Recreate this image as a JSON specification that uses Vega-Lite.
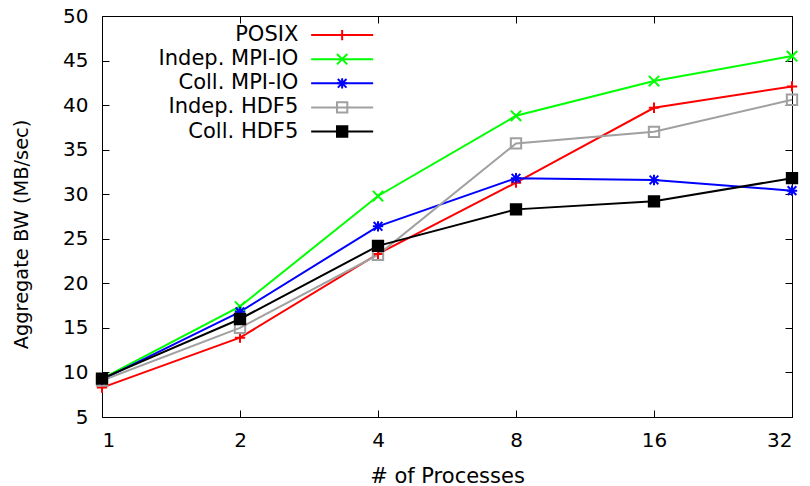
{
  "$schema": "https://vega.github.io/schema/vega-lite/v6.json",
  "width": 690,
  "height": 401,
  "autosize": {"type": "none"},
  "padding": {"left": 102, "top": 16, "right": 18, "bottom": 69},
  "background": "white",
  "config": {
    "view": {"stroke": "#000000", "strokeWidth": 1},
    "font": "DejaVu Sans",
    "axis": {
      "domain": false, "grid": false, "tickColor": "#000000", "tickSize": -7, "tickWidth": 1,
      "labelFont": "DejaVu Sans", "labelFontSize": 20, "labelColor": "#000000",
      "titleFont": "DejaVu Sans", "titleFontSize": 20, "titleFontWeight": "normal", "titleColor": "#000000"
    }
  },
  "data": {"values": [
    {"procs": 1, "series": "POSIX", "bw": 8.3},
    {"procs": 2, "series": "POSIX", "bw": 13.9},
    {"procs": 4, "series": "POSIX", "bw": 23.3},
    {"procs": 8, "series": "POSIX", "bw": 31.3},
    {"procs": 16, "series": "POSIX", "bw": 39.7},
    {"procs": 32, "series": "POSIX", "bw": 42.1},
    {"procs": 1, "series": "Indep. MPI-IO", "bw": 9.3},
    {"procs": 2, "series": "Indep. MPI-IO", "bw": 17.4},
    {"procs": 4, "series": "Indep. MPI-IO", "bw": 29.8},
    {"procs": 8, "series": "Indep. MPI-IO", "bw": 38.8},
    {"procs": 16, "series": "Indep. MPI-IO", "bw": 42.7},
    {"procs": 32, "series": "Indep. MPI-IO", "bw": 45.5},
    {"procs": 1, "series": "Coll. MPI-IO", "bw": 9.2},
    {"procs": 2, "series": "Coll. MPI-IO", "bw": 16.8},
    {"procs": 4, "series": "Coll. MPI-IO", "bw": 26.4},
    {"procs": 8, "series": "Coll. MPI-IO", "bw": 31.8},
    {"procs": 16, "series": "Coll. MPI-IO", "bw": 31.6},
    {"procs": 32, "series": "Coll. MPI-IO", "bw": 30.4},
    {"procs": 1, "series": "Indep. HDF5", "bw": 9.1},
    {"procs": 2, "series": "Indep. HDF5", "bw": 15.0},
    {"procs": 4, "series": "Indep. HDF5", "bw": 23.2},
    {"procs": 8, "series": "Indep. HDF5", "bw": 35.7},
    {"procs": 16, "series": "Indep. HDF5", "bw": 37.0},
    {"procs": 32, "series": "Indep. HDF5", "bw": 40.6},
    {"procs": 1, "series": "Coll. HDF5", "bw": 9.3},
    {"procs": 2, "series": "Coll. HDF5", "bw": 16.0},
    {"procs": 4, "series": "Coll. HDF5", "bw": 24.2},
    {"procs": 8, "series": "Coll. HDF5", "bw": 28.3},
    {"procs": 16, "series": "Coll. HDF5", "bw": 29.2},
    {"procs": 32, "series": "Coll. HDF5", "bw": 31.8}
  ]},
  "resolve": {"axis": {"x": "independent", "y": "independent"}},
  "layer": [
    {
      "mark": {"type": "line", "strokeWidth": 2},
      "encoding": {
        "x": {"field": "procs", "type": "quantitative",
          "scale": {"type": "log", "base": 2, "domain": [1, 32]},
          "axis": {"orient": "bottom", "values": [1, 2, 4, 8, 16, 32], "format": "d", "labelPadding": 20,
            "title": "# of Processes", "titleFontSize": 21, "titleY": 65, "titleBaseline": "alphabetic"}},
        "y": {"field": "bw", "type": "quantitative",
          "scale": {"domain": [5, 50], "nice": false, "zero": false},
          "axis": {"orient": "left", "values": [5, 10, 15, 20, 25, 30, 35, 40, 45, 50], "labelPadding": 21,
            "title": "Aggregate BW (MB/sec)", "titleFontSize": 19.4, "titleX": -75, "titleY": 218, "titleBaseline": "alphabetic"}},
        "color": {"field": "series", "type": "nominal",
          "sort": ["POSIX", "Indep. MPI-IO", "Coll. MPI-IO", "Indep. HDF5", "Coll. HDF5"],
          "scale": {"range": ["#ff0000", "#00ff00", "#0000ff", "#a0a0a0", "#000000"]},
          "legend": {"orient": "none", "legendX": 228.65, "legendY": 7.6, "title": null, "padding": 0,
            "symbolType": "M-3,0L3,0", "symbolSize": 427, "symbolStrokeWidth": 2,
            "labelAlign": "right", "labelOffset": -55.35, "labelFont": "DejaVu Sans", "labelFontSize": 21,
            "labelColor": "#000000", "rowPadding": 2.1, "symbolOffset": 0}}
      }
    },
    {
      "mark": {"type": "point", "size": 427, "strokeWidth": 2, "opacity": 1},
      "encoding": {
        "x": {"field": "procs", "type": "quantitative", "axis": null},
        "y": {"field": "bw", "type": "quantitative", "axis": null},
        "shape": {"field": "series", "type": "nominal",
          "scale": {"domain": ["POSIX", "Indep. MPI-IO", "Coll. MPI-IO", "Indep. HDF5", "Coll. HDF5"],
            "range": [
            "M-0.5,0L0.5,0M0,-0.5L0,0.5",
            "M-0.5,-0.5L0.5,0.5M-0.5,0.5L0.5,-0.5",
            "M-0.5,0L0.5,0M0,-0.5L0,0.5M-0.42,-0.42L0.42,0.42M-0.42,0.42L0.42,-0.42",
            "M-0.5,-0.5L0.5,-0.5L0.5,0.5L-0.5,0.5Z",
            "M-0.5,-0.5L0.5,-0.5L0.5,0.5L-0.5,0.5Z"]},
          "legend": {"orient": "none", "legendX": 228.65, "legendY": 7.6, "title": null, "padding": 0,
            "symbolSize": 427, "symbolStrokeWidth": 2, "labelOpacity": 0, "labelFontSize": 21,
            "rowPadding": 2.1, "symbolOffset": 0}},
        "stroke": {"field": "series", "type": "nominal",
          "scale": {"domain": ["POSIX", "Indep. MPI-IO", "Coll. MPI-IO", "Indep. HDF5", "Coll. HDF5"],
            "range": ["#ff0000", "#00ff00", "#0000ff", "#a0a0a0", "#000000"]}},
        "fill": {"field": "series", "type": "nominal",
          "scale": {"domain": ["POSIX", "Indep. MPI-IO", "Coll. MPI-IO", "Indep. HDF5", "Coll. HDF5"],
            "range": ["transparent", "transparent", "transparent", "transparent", "#000000"]}}
      }
    },
    {
      "mark": {"type": "point", "opacity": 0},
      "encoding": {
        "x": {"field": "procs", "type": "quantitative",
          "axis": {"orient": "top", "values": [1, 2, 4, 8, 16, 32], "labels": false, "title": null}},
        "y": {"field": "bw", "type": "quantitative",
          "axis": {"orient": "right", "values": [5, 10, 15, 20, 25, 30, 35, 40, 45, 50], "labels": false, "title": null}}
      }
    }
  ]
}
